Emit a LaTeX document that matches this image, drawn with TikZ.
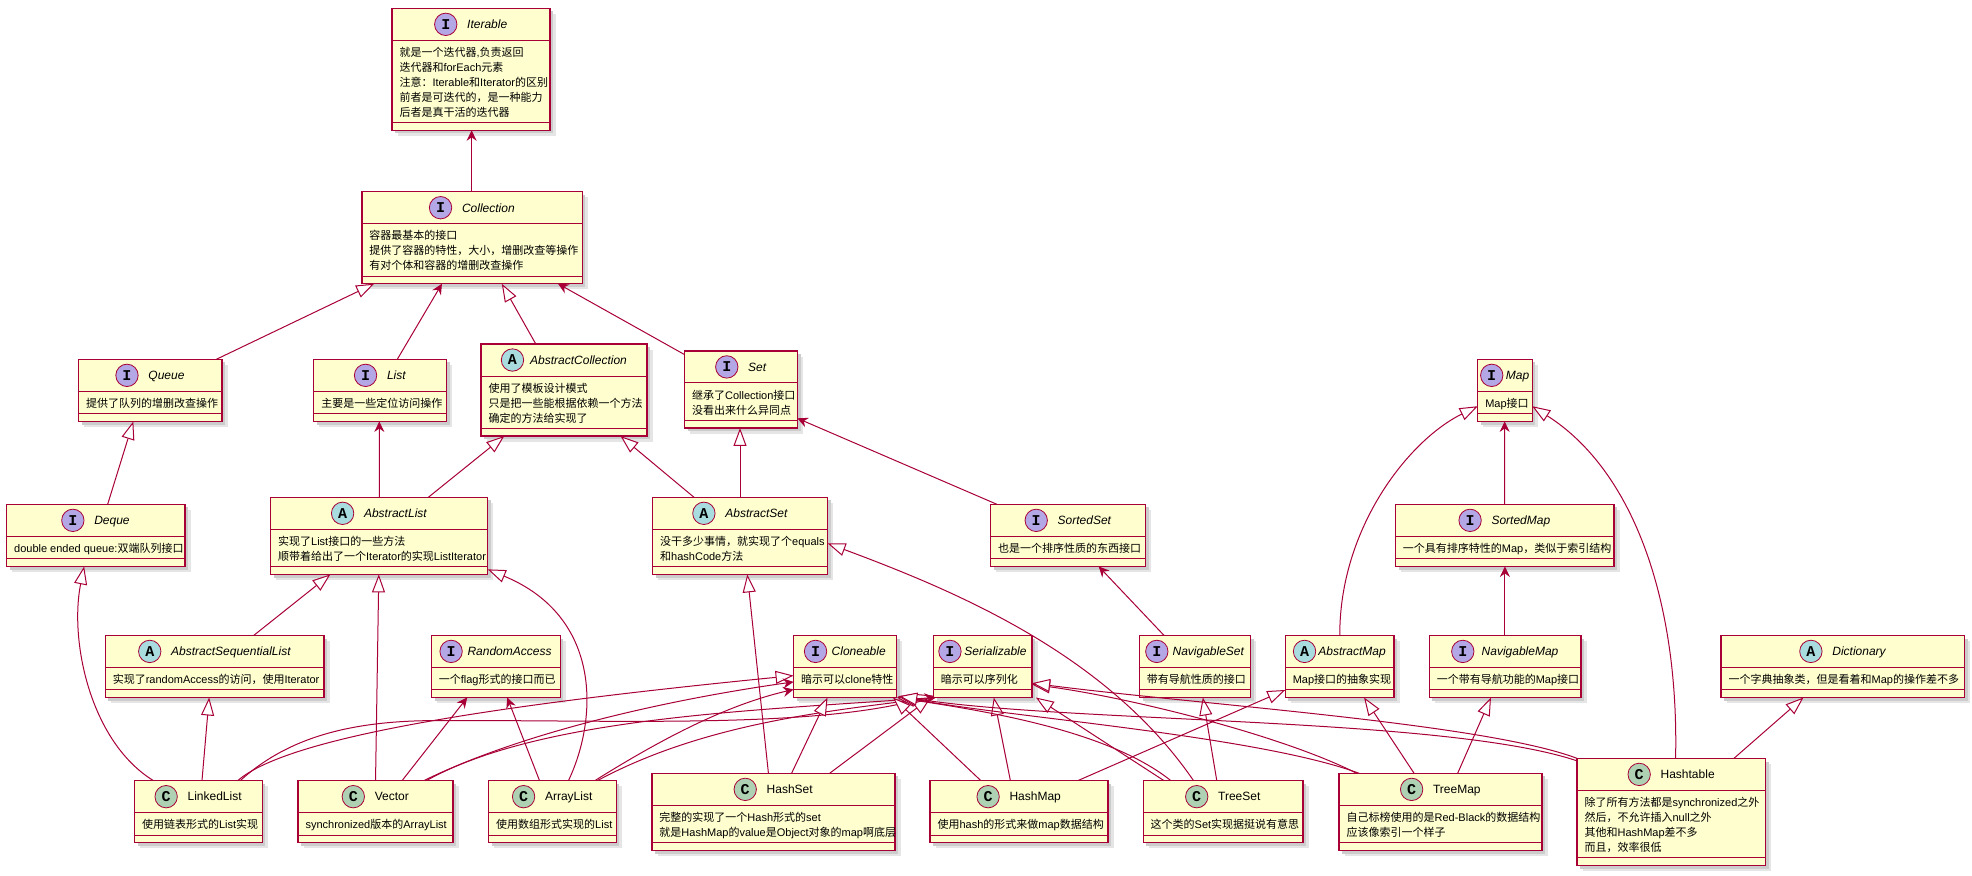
\documentclass[tikz,border=0pt]{standalone}
\usepackage{fontspec}
\setmainfont{Liberation Sans}
\newfontfamily\cjkfont{Noto Sans CJK SC}
\newfontfamily\latfont{Liberation Sans}
\newfontfamily\umlmono{Liberation Mono}
\usetikzlibrary{arrows.meta,calc}
\XeTeXinterchartokenstate=1
\newXeTeXintercharclass\CJKcls
\makeatletter
\count@="3000
\loop\XeTeXcharclass\count@=\CJKcls\relax\ifnum\count@<"303F\advance\count@\@ne\repeat
\count@="4E00
\loop\XeTeXcharclass\count@=\CJKcls\relax\ifnum\count@<"9FFF\advance\count@\@ne\repeat
\count@="FF00
\loop\XeTeXcharclass\count@=\CJKcls\relax\ifnum\count@<"FFEF\advance\count@\@ne\repeat
\makeatother
\XeTeXinterchartoks 0 \CJKcls = {\cjkfont}
\XeTeXinterchartoks 4095 \CJKcls = {\cjkfont}
\XeTeXinterchartoks \CJKcls 0 = {\latfont}
\XeTeXinterchartoks \CJKcls 4095 = {\latfont}
\definecolor{uc}{HTML}{A80036}
\definecolor{ufill}{HTML}{FEFECE}
\definecolor{cI}{HTML}{B4A7E5}
\definecolor{cA}{HTML}{A9DCDF}
\definecolor{cC}{HTML}{ADD1B2}
\def\ux{1.2577pt}
\newcommand\bodyf{\latfont\fontsize{11}{15}\selectfont}
\tikzset{
  ubx/.style={draw=uc, fill=ufill, line width=1.4pt, rectangle, inner sep=0, outer sep=0},
  uline/.style={draw=uc, line width=1pt},
  ttlI/.style={inner sep=0, text height=8.6pt, text depth=0pt, font=\latfont\itshape\fontsize{12}{14}\selectfont},
  ttlA/.style={ttlI},
  ttlC/.style={inner sep=0, text height=8.6pt, text depth=0pt, font=\latfont\fontsize{12}{14}\selectfont},
  circ/.style={circle, draw=uc, line width=0.8pt, minimum size=22.4pt, inner sep=0, font=\umlmono\bfseries\fontsize{15}{15}\selectfont},
  bodytext/.style={anchor=north west, inner sep=0, align=left, font=\bodyf},
  gen/.style={draw=uc, line width=1pt, -{Triangle[length=18pt, width=13pt, fill=white]}},
  arr/.style={draw=uc, line width=1pt, -{Stealth[length=10.5pt, width=10pt, inset=3.5pt]}}
}
% #1 name, #2 x1, #3 y1, #4 x2, #5 lines, #6 kind, #7 title, #8 gap
\newcommand\ubox[8]{%
  \pgfmathsetmacro\yb{#3+37.5+11.9*#5}%
  \pgfmathsetmacro\ys{#3+25.5}%
  \pgfmathsetmacro\ye{\yb-6}%
  \fill[black!10] (#2+4.5,#3+4.5) rectangle (#4+4.5,\yb+4.5);
  \fill[black!20] (#2+2.5,#3+2.5) rectangle (#4+2.5,\yb+2.5);
  \node[ubx, minimum width={(#4-#2)*\ux}, minimum height={(\yb-#3)*\ux}, anchor=north west] (#1) at (#2,#3) {};
  \draw[uline] (#2,\ys) -- (#4,\ys);
  \draw[uline] (#2,\ye) -- (#4,\ye);
  \node[ttl#6] (#1-t) at ({(#2+#4)/2+(17.8+#8)/2},{#3+12.75}) {#7};
  \node[circ, fill=c#6] (#1-c) at ([xshift={-(#8+8.9)*\ux}]#1-t.west) {#6};
}
\newcommand\ubody[2]{%
  \node[bodytext] (#1-b) at ($(#1.north west)+(5.8,29.75)$) {\rule{0pt}{10.5pt}#2};
}
\begin{document}
\begin{tikzpicture}[x=\ux, y=-\ux]
\useasboundingbox (0,0) rectangle (1568,696.5);
\fill[white] (0,0) rectangle (1568,696.5);

\ubox{Iterable}{311.7}{6.6}{437.3}{5}{I}{Iterable}{8}
\ubody{Iterable}{就是一个迭代器,负责返回\\迭代器和forEach元素\\注意：Iterable和Iterator的区别\\前者是可迭代的，是一种能力\\后者是真干活的迭代器}
\ubox{Collection}{287.8}{152.4}{463}{3}{I}{Collection}{8}
\ubody{Collection}{容器最基本的接口\\提供了容器的特性，大小，增删改查等操作\\有对个体和容器的增删改查操作}
\ubox{Queue}{62.5}{285.7}{176.4}{1}{I}{Queue}{8}
\ubody{Queue}{提供了队列的增删改查操作}
\ubox{List}{249.5}{285.7}{355}{1}{I}{List}{8}
\ubody{List}{主要是一些定位访问操作}
\ubox{AbsColl}{382.6}{273.5}{514.6}{3}{A}{AbstractCollection}{5}
\ubody{AbsColl}{使用了模板设计模式\\只是把一些能根据依赖一个方法\\确定的方法给实现了}
\ubox{Set}{544.4}{279}{634}{2}{I}{Set}{8}
\ubody{Set}{继承了Collection接口\\没看出来什么异同点}
\ubox{Map}{1175}{285.7}{1218.3}{1}{I}{Map}{2.2}
\ubody{Map}{Map接口}
\ubox{Deque}{5.3}{401}{147}{1}{I}{Deque}{8}
\ubody{Deque}{double ended queue:双端队列接口}
\ubox{AbsList}{215.2}{395.4}{387.8}{2}{A}{AbstractList}{8}
\ubody{AbsList}{实现了List接口的一些方法\\顺带着给出了一个Iterator的实现ListIterator}
\ubox{AbsSet}{519}{395.4}{658}{2}{A}{AbstractSet}{8}
\ubody{AbsSet}{没干多少事情，就实现了个equals\\和hashCode方法}
\ubox{SortedSet}{787.7}{401}{910.9}{1}{I}{SortedSet}{8}
\ubody{SortedSet}{也是一个排序性质的东西接口}
\ubox{SortedMap}{1109.5}{401}{1283.3}{1}{I}{SortedMap}{8}
\ubody{SortedMap}{一个具有排序特性的Map，类似于索引结构}
\ubox{AbsSeqList}{83.7}{505.2}{257.7}{1}{A}{AbstractSequentialList}{8}
\ubody{AbsSeqList}{实现了randomAccess的访问，使用Iterator}
\ubox{RandomAccess}{343}{505.2}{445.5}{1}{I}{RandomAccess}{4}
\ubody{RandomAccess}{一个flag形式的接口而已}
\ubox{Cloneable}{631}{505.2}{713}{1}{I}{Cloneable}{3.8}
\ubody{Cloneable}{暗示可以clone特性}
\ubox{Serializable}{742.2}{505.2}{820.6}{1}{I}{Serializable}{2.5}
\ubody{Serializable}{暗示可以序列化}
\ubox{NavSet}{906}{505.2}{994.2}{1}{I}{NavigableSet}{3.5}
\ubody{NavSet}{带有导航性质的接口}
\ubox{AbsMap}{1022}{505.2}{1108.4}{1}{A}{AbstractMap}{2}
\ubody{AbsMap}{Map接口的抽象实现}
\ubox{NavMap}{1136.5}{505.2}{1257}{1}{I}{NavigableMap}{6}
\ubody{NavMap}{一个带有导航功能的Map接口}
\ubox{Dictionary}{1368.5}{505.2}{1562}{1}{A}{Dictionary}{8}
\ubody{Dictionary}{一个字典抽象类，但是看着和Map的操作差不多}
\ubox{LinkedList}{107}{620.7}{208.5}{1}{C}{LinkedList}{8}
\ubody{LinkedList}{使用链表形式的List实现}
\ubox{Vector}{237}{620.7}{360.2}{1}{C}{Vector}{8}
\ubody{Vector}{synchronized版本的ArrayList}
\ubox{ArrayList}{388.6}{620.7}{490}{1}{C}{ArrayList}{8}
\ubody{ArrayList}{使用数组形式实现的List}
\ubox{HashSet}{518.4}{614.9}{711.6}{2}{C}{HashSet}{8}
\ubody{HashSet}{完整的实现了一个Hash形式的set\\就是HashMap的value是Object对象的map啊底层}
\ubox{HashMap}{739.5}{620.7}{881}{1}{C}{HashMap}{8}
\ubody{HashMap}{使用hash的形式来做map数据结构}
\ubox{TreeSet}{909}{620.7}{1036}{1}{C}{TreeSet}{8}
\ubody{TreeSet}{这个类的Set实现据挺说有意思}
\ubox{TreeMap}{1064.8}{614.9}{1226.2}{2}{C}{TreeMap}{8}
\ubody{TreeMap}{自己标榜使用的是Red-Black的数据结构\\应该像索引一个样子}
\ubox{Hashtable}{1254}{603}{1404}{4}{C}{Hashtable}{8}
\ubody{Hashtable}{除了所有方法都是synchronized之外\\然后，不允许插入null之外\\其他和HashMap差不多\\而且，效率很低}

% upper hierarchy
\draw[arr] ($(Collection.north west)+(87.2,0)$) -- ($(Iterable.south west)+(63.3,0)$);
\draw[gen] ($(Queue.north west)+(109.5,0)$) -- ($(Collection.south west)+(9.7,0)$);
\draw[arr] ($(List.north west)+(66.4,0)$) -- ($(Collection.south west)+(63.6,0)$);
\draw[gen] ($(AbsColl.north west)+(43.4,0)$) -- ($(Collection.south west)+(111.2,0)$);
\draw[arr] ($(Set.north west)+(0,3)$) -- ($(Collection.south west)+(155.9,0)$);
\draw[gen] ($(Deque.north west)+(80.3,0)$) -- ($(Queue.south west)+(43.5,0)$);
\draw[arr] ($(AbsList.north west)+(86.4,0)$) -- ($(List.south west)+(52.1,0)$);
\draw[gen] ($(AbsList.north west)+(125.4,0)$) -- ($(AbsColl.south west)+(18.4,0)$);
\draw[gen] ($(AbsSet.north west)+(32.8,0)$) -- ($(AbsColl.south west)+(110.8,0)$);
\draw[gen] ($(AbsSet.north west)+(69.4,0)$) -- ($(Set.south west)+(44,0)$);
\draw[arr] ($(SortedSet.north west)+(5,0)$) -- ($(Set.north east)+(0,53.6)$);
\draw[arr] ($(NavSet.north west)+(19.5,0)$) -- ($(SortedSet.south west)+(85.9,0)$);
\draw[gen] ($(AbsSeqList.north west)+(118.1,0)$) -- ($(AbsList.south west)+(47.5,0)$);
\draw[gen] ($(Vector.north west)+(61.6,0)$) -- ($(AbsList.south west)+(86,0)$);
\draw[gen] ($(ArrayList.north west)+(63.4,0)$) .. controls (476,570) and (478,490) .. ($(AbsList.south east)+(0,-4)$);
\draw[gen] ($(LinkedList.north west)+(53.6,0)$) -- ($(AbsSeqList.south west)+(82.6,0)$);
\draw[gen] ($(LinkedList.north west)+(15,0)$) .. controls (72,590) and (55,510) .. ($(Deque.south west)+(61.6,0)$);
\draw[arr] ($(Vector.north west)+(82.7,0)$) -- ($(RandomAccess.south west)+(28.5,0)$);
\draw[arr] ($(ArrayList.north west)+(40.4,0)$) -- ($(RandomAccess.south west)+(60.3,0)$);
\draw[gen] ($(HashSet.north west)+(92.6,0)$) -- ($(AbsSet.south west)+(75.2,0)$);
\draw[gen] ($(TreeSet.north west)+(40,0)$) .. controls (880,520) and (760,470) .. ($(AbsSet.north east)+(0,36.6)$);
\draw[gen] ($(TreeSet.north west)+(58.5,0)$) -- ($(NavSet.south west)+(50.4,0)$);
\draw[gen] ($(AbsMap.north west)+(43.3,0)$) .. controls (1065,420) and (1120,350) .. ($(Map.north west)+(0,37.3)$);
\draw[arr] ($(SortedMap.north west)+(86.9,0)$) -- ($(Map.south west)+(21.4,0)$);
\draw[arr] ($(NavMap.north west)+(60.1,0)$) -- ($(SortedMap.south west)+(87.1,0)$);
\draw[gen] ($(Hashtable.north west)+(78.3,0)$) .. controls (1335,480) and (1300,375) .. ($(Map.north east)+(0,37.3)$);
\draw[gen] ($(Hashtable.north west)+(124.7,0)$) -- ($(Dictionary.south west)+(65.5,0)$);
\draw[gen] ($(TreeMap.north west)+(59.6,0)$) -- ($(AbsMap.south west)+(62.6,0)$);
\draw[gen] ($(TreeMap.north west)+(94.2,0)$) -- ($(NavMap.south west)+(49,0)$);
\draw[gen] ($(HashMap.north west)+(117.5,0)$) -- ($(AbsMap.south west)+(0,-6)$);

% Cloneable / Serializable
\draw[gen] ($(LinkedList.north west)+(82,0)$) .. controls (230,585) and (400,560) .. ($(Cloneable.north west)+(0,32)$);
\draw[gen] ($(LinkedList.north west)+(84,0)$) .. controls (225,590) and (270,574) .. (340,573) .. controls (480,572) and (640,580) .. ($(Serializable.south west)+(0,-1.5)$);
\draw[arr] ($(Vector.north west)+(100,0)$) .. controls (420,580) and (540,555) .. ($(Cloneable.north west)+(0,37)$);
\draw[arr] ($(Vector.north west)+(102,0)$) .. controls (430,570) and (600,565) .. ($(Serializable.south west)+(1,0)$);
\draw[arr] ($(ArrayList.north west)+(84.4,0)$) .. controls (530,585) and (580,560) .. ($(Cloneable.north west)+(0,43)$);
\draw[arr] ($(ArrayList.north west)+(86.4,0)$) .. controls (560,575) and (660,565) .. ($(Serializable.south west)+(2,0)$);
\draw[gen] ($(HashSet.north west)+(111,0)$) -- ($(Cloneable.south west)+(27,0)$);
\draw[gen] ($(HashSet.north west)+(141.2,0)$) -- ($(Serializable.south west)+(-2,0)$);
\draw[gen] ($(HashMap.north west)+(40.4,0)$) -- ($(Cloneable.south east)+(-3,0)$);
\draw[gen] ($(HashMap.north west)+(63.9,0)$) -- ($(Serializable.south west)+(48,0)$);
\draw[gen] ($(TreeSet.north west)+(16.5,0)$) -- ($(Serializable.south east)+(3,0)$);
\draw[gen] ($(TreeSet.north west)+(22,0)$) .. controls (880,580) and (780,565) .. (Cloneable.south east);
\draw[gen] ($(TreeMap.north west)+(14,0)$) .. controls (1020,585) and (900,555) .. ($(Serializable.north east)+(0,39)$);
\draw[gen] ($(TreeMap.north west)+(16,0)$) .. controls (1000,585) and (800,570) .. ($(Cloneable.south east)+(1,-1)$);
\draw[gen] (Hashtable.north west) .. controls (1180,575) and (950,560) .. ($(Serializable.north east)+(0,38)$);
\draw[gen] ($(Hashtable.north west)+(0,2)$) .. controls (1150,570) and (850,575) .. ($(Cloneable.south east)+(2,-1)$);
\end{tikzpicture}
\end{document}
